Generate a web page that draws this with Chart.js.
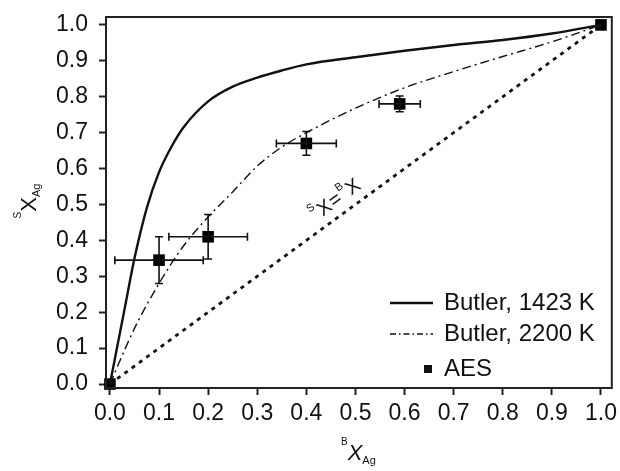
<!DOCTYPE html>
<html><head><meta charset="utf-8">
<script src="https://cdn.jsdelivr.net/npm/chart.js@4.4.0/dist/chart.umd.min.js"></script>
<style>html,body{margin:0;padding:0;background:#fff}#wrap{width:620px;height:471px}</style>
</head><body><div id="wrap"><canvas id="c" width="620" height="471"></canvas></div>
<script>
// ---- data ----
const tickValues = [0.0, 0.1, 0.2, 0.3, 0.4, 0.5, 0.6, 0.7, 0.8, 0.9, 1.0];
const butler1423X = [0, 0.01, 0.02, 0.03, 0.05, 0.075, 0.1, 0.125, 0.15, 0.2, 0.25, 0.3, 0.35, 0.4, 0.5, 0.6, 0.7, 0.8, 0.9, 1.0];
const butler1423Y = [0, 0.07, 0.14, 0.21, 0.35, 0.49, 0.59, 0.66, 0.715, 0.787, 0.828, 0.853, 0.873, 0.89, 0.91, 0.928, 0.944, 0.958, 0.976, 1.0];
const butler2200X = [0, 0.05, 0.1, 0.15, 0.2, 0.25, 0.3, 0.35, 0.4, 0.5, 0.6, 0.7, 0.8, 0.9, 1.0];
const butler2200Y = [0, 0.155, 0.28, 0.385, 0.465, 0.535, 0.607, 0.66, 0.70, 0.768, 0.825, 0.87, 0.912, 0.953, 1.0];
const diagonalX = [0, 1];
const diagonalY = [0, 1];
const aesX = [0, 0.1, 0.2, 0.4, 0.59, 1.0];
const aesY = [0, 0.345, 0.41, 0.67, 0.78, 1.0];
const aesXErr = [0, 0.09, 0.08, 0.061, 0.042, 0];
const aesYErr = [0, 0.065, 0.062, 0.033, 0.022, 0];
const legendLabels = ['Butler, 1423 K', 'Butler, 2200 K', 'AES'];

const pts = (xs, ys) => xs.map((x, i) => ({x, y: ys[i]}));
const INK = '#111';
const FONT = '"Liberation Sans", Arial, sans-serif';

function drawRich(ctx, parts, x, y, align) {
  let total = 0;
  const widths = parts.map(p => { ctx.font = p.font; const w = ctx.measureText(p.text).width; total += w + (p.gap || 0); return w; });
  let cx = align === 'center' ? x - total / 2 : x;
  parts.forEach((p, i) => {
    ctx.font = p.font;
    ctx.fillText(p.text, cx, y + (p.dy || 0));
    cx += widths[i] + (p.gap || 0);
  });
}

const extras = {
  id: 'extras',
  afterDatasetsDraw(chart) {
    const ctx = chart.ctx, xs = chart.scales.x, ys = chart.scales.y;
    ctx.save();
    ctx.strokeStyle = INK; ctx.lineWidth = 1.6;
    const cap = 4;
    aesX.forEach((x, i) => {
      const px = xs.getPixelForValue(x), py = ys.getPixelForValue(aesY[i]);
      if (aesXErr[i] > 0) {
        const l = xs.getPixelForValue(x - aesXErr[i]), r = xs.getPixelForValue(x + aesXErr[i]);
        ctx.beginPath();
        ctx.moveTo(l, py); ctx.lineTo(r, py);
        ctx.moveTo(l, py - cap); ctx.lineTo(l, py + cap);
        ctx.moveTo(r, py - cap); ctx.lineTo(r, py + cap);
        ctx.stroke();
      }
      if (aesYErr[i] > 0) {
        const t = ys.getPixelForValue(aesY[i] + aesYErr[i]), b = ys.getPixelForValue(aesY[i] - aesYErr[i]);
        ctx.beginPath();
        ctx.moveTo(px, t); ctx.lineTo(px, b);
        ctx.moveTo(px - cap, t); ctx.lineTo(px + cap, t);
        ctx.moveTo(px - cap, b); ctx.lineTo(px + cap, b);
        ctx.stroke();
      }
    });
    ctx.restore();
  },
  afterDraw(chart) {
    const ctx = chart.ctx, a = chart.chartArea, xs = chart.scales.x, ys = chart.scales.y;
    ctx.save();
    ctx.strokeStyle = '#222'; ctx.lineWidth = 2;
    ctx.strokeRect(a.left, a.top, a.right - a.left, a.bottom - a.top);
    ctx.fillStyle = INK; ctx.textBaseline = 'alphabetic';
    // x title
    drawRich(ctx, [
      {text: 'B', font: '10px ' + FONT, dy: -15},
      {text: 'X', font: 'italic 22px ' + FONT},
      {text: 'Ag', font: '11px ' + FONT, dy: 4}
    ], 341, 460, 'left');
    // y title
    ctx.save();
    ctx.translate(36, 201); ctx.rotate(-Math.PI / 2);
    drawRich(ctx, [
      {text: 'S', font: '10px ' + FONT, dy: -15},
      {text: 'X', font: '22px ' + FONT},
      {text: 'Ag', font: '11px ' + FONT, dy: 4}
    ], 0, 0, 'center');
    ctx.restore();
    // diagonal label
    const p0x = xs.getPixelForValue(0), p0y = ys.getPixelForValue(0);
    const p1x = xs.getPixelForValue(1), p1y = ys.getPixelForValue(1);
    const ang = Math.atan2(p1y - p0y, p1x - p0x);
    ctx.save();
    ctx.translate(xs.getPixelForValue(0.458), ys.getPixelForValue(0.515));
    ctx.rotate(ang);
    drawRich(ctx, [
      {text: 'S', font: '11px ' + FONT, dy: -4, gap: 1},
      {text: 'X', font: '20px ' + FONT, dy: 7, gap: 1},
      {text: '=', font: '20px ' + FONT, dy: 7, gap: 1},
      {text: 'B', font: '11px ' + FONT, dy: -4, gap: 1},
      {text: 'X', font: '20px ' + FONT, dy: 7}
    ], 0, 0, 'center');
    ctx.restore();
    // legend
    ctx.strokeStyle = INK;
    ctx.lineWidth = 2.3; ctx.setLineDash([]);
    ctx.beginPath(); ctx.moveTo(390, 303); ctx.lineTo(433, 303); ctx.stroke();
    ctx.lineWidth = 1.4; ctx.setLineDash([6, 3, 1.5, 3]);
    ctx.beginPath(); ctx.moveTo(390, 334); ctx.lineTo(433, 334); ctx.stroke();
    ctx.setLineDash([]);
    ctx.fillRect(424, 365, 8, 8);
    ctx.font = '24px ' + FONT; ctx.textBaseline = 'middle';
    ctx.fillText(legendLabels[0], 444, 303);
    ctx.fillText(legendLabels[1], 444, 334);
    ctx.fillText(legendLabels[2], 444, 369);
    ctx.restore();
  }
};

const axisCommon = {
  type: 'linear',
  afterBuildTicks: s => { s.ticks = tickValues.map(v => ({value: v})); },
  grid: {display: true, drawOnChartArea: false, drawTicks: true, tickLength: 7, tickWidth: 2, tickColor: '#222'},
  border: {display: true, color: '#222', width: 2},
};

new Chart(document.getElementById('c'), {
  type: 'scatter',
  data: {
    datasets: [
      {label: legendLabels[0], data: pts(butler1423X, butler1423Y), showLine: true, borderColor: INK, borderWidth: 2.4,
       pointRadius: 0, cubicInterpolationMode: 'monotone', fill: false},
      {label: legendLabels[1], data: pts(butler2200X, butler2200Y), showLine: true, borderColor: INK, borderWidth: 1.4,
       borderDash: [9, 4, 2, 4], pointRadius: 0, cubicInterpolationMode: 'monotone', fill: false},
      {label: 'diag', data: pts(diagonalX, diagonalY), showLine: true, borderColor: INK, borderWidth: 2.8,
       borderDash: [4, 5], pointRadius: 0, fill: false},
      {label: legendLabels[2], data: pts(aesX, aesY), showLine: false, pointStyle: 'rect', pointRadius: 8.2,
       backgroundColor: '#000', borderColor: '#000', borderWidth: 0, clip: false}
    ]
  },
  options: {
    responsive: false, animation: false, devicePixelRatio: 1,
    layout: {padding: {top: 17, right: 8, left: 0, bottom: 0}},
    plugins: {legend: {display: false}, tooltip: {enabled: false}},
    scales: {
      x: Object.assign({}, axisCommon, {
        min: -0.008, max: 1.022,
        ticks: {color: INK, font: {family: FONT, size: 23}, padding: 5, maxRotation: 0, callback: v => v.toFixed(1)},
        afterFit: s => { s.height = 83; s.paddingLeft = 0; s.paddingRight = 0; }
      }),
      y: Object.assign({}, axisCommon, {
        min: -0.011, max: 1.022,
        ticks: {color: INK, font: {family: FONT, size: 23}, padding: 11, callback: v => v.toFixed(1)},
        afterFit: s => { s.width = 106; s.paddingTop = 0; s.paddingBottom = 0; }
      })
    }
  },
  plugins: [extras]
});
</script>
</body></html>
